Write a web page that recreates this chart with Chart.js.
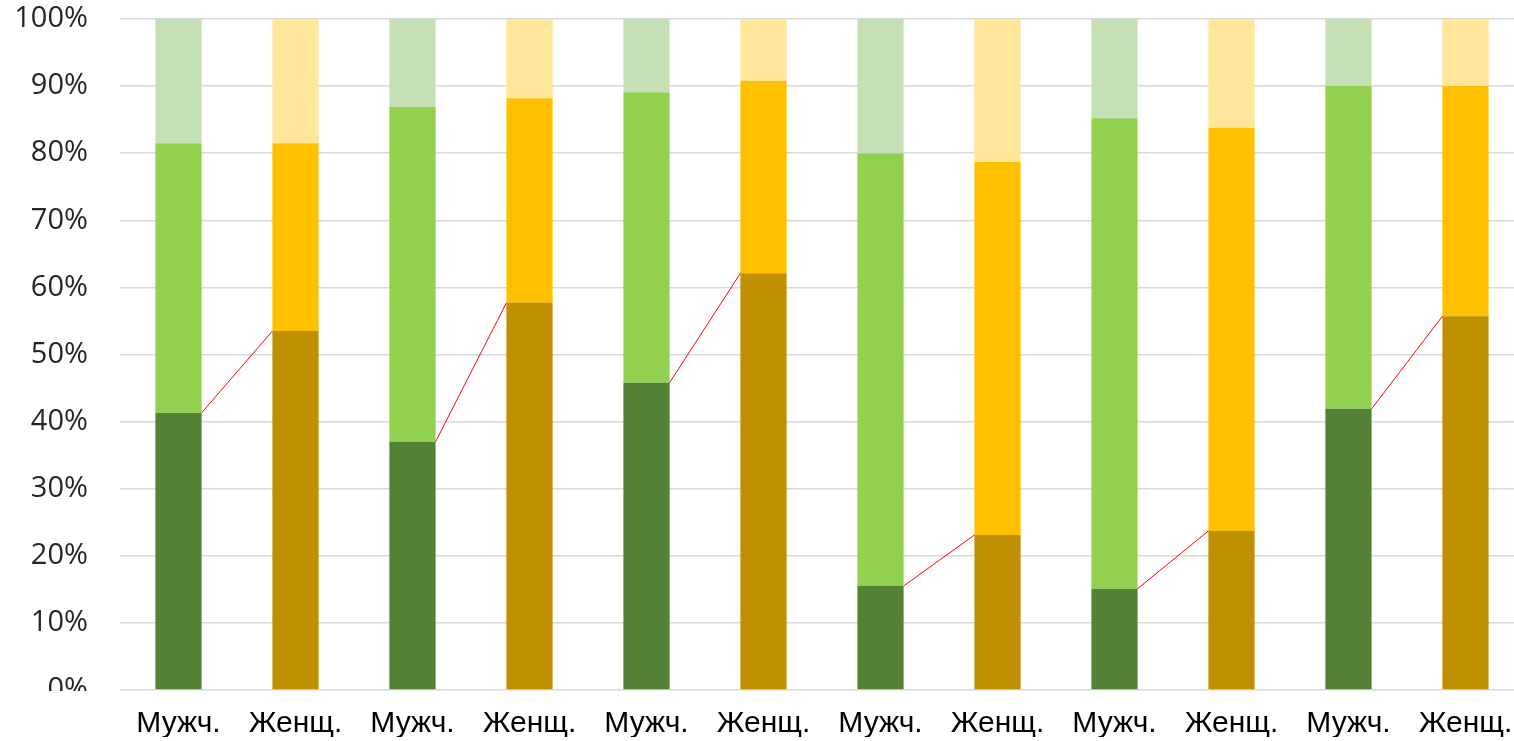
<!DOCTYPE html>
<html>
<head>
<meta charset="utf-8">
<script src="https://cdn.jsdelivr.net/npm/chart.js@4.4.1/dist/chart.umd.min.js"></script>
<style>
  html, body { margin: 0; padding: 0; background: #fff; overflow: hidden; }
  #wrap { width: 1524px; height: 741px; }
</style>
</head>
<body>
<div id="wrap"><canvas id="chart" width="1524" height="741"></canvas></div>
<script>
// ---------- data (segment shares, %) ----------
const labels = ["Мужч.", "Женщ.", "Мужч.", "Женщ.", "Мужч.", "Женщ.",
                "Мужч.", "Женщ.", "Мужч.", "Женщ.", "Мужч.", "Женщ."];
const lowShare  = [41.3, 53.5, 37.0, 57.7, 45.8, 62.1, 15.5, 23.1, 15.1, 23.7, 41.9, 55.7];
const midShare  = [40.2, 28.0, 49.9, 30.5, 43.3, 28.7, 64.5, 55.6, 70.1, 60.1, 48.1, 34.3];
const highShare = [18.5, 18.5, 13.1, 11.8, 10.9,  9.2, 20.0, 21.3, 14.8, 16.2, 10.0, 10.0];
const yTicks = [0, 10, 20, 30, 40, 50, 60, 70, 80, 90, 100];

// male / female palettes
const lowColors  = ["#548235", "#BF9000"];
const midColors  = ["#92D050", "#FFC000"];
const highColors = ["#C5E0B4", "#FFE699"];

function alternate(pair) {
  return labels.map((_, i) => pair[i % 2]);
}

// red "series lines" between the bottom segments of each pair
const seriesLines = {
  id: "seriesLines",
  afterDatasetsDraw(chart) {
    const meta = chart.getDatasetMeta(0);
    const ctx = chart.ctx;
    ctx.save();
    ctx.strokeStyle = "#FF0000";
    ctx.lineWidth = 1;
    for (let i = 0; i + 1 < meta.data.length; i += 2) {
      const a = meta.data[i], b = meta.data[i + 1];
      ctx.beginPath();
      ctx.moveTo(a.x + a.width / 2, a.y);
      ctx.lineTo(b.x - b.width / 2, b.y);
      ctx.stroke();
    }
    ctx.restore();
  }
};

// the "0%" label is cut at the axis line in the original
const clipZero = {
  id: "clipZero",
  afterDraw(chart) {
    const { ctx, chartArea } = chart;
    ctx.save();
    ctx.fillStyle = "#fff";
    ctx.fillRect(0, chartArea.bottom + 1, chartArea.left - 8, 14);
    ctx.restore();
  }
};

new Chart(document.getElementById("chart"), {
  type: "bar",
  data: {
    labels,
    datasets: [
      { data: lowShare,  backgroundColor: alternate(lowColors),  borderWidth: 0 },
      { data: midShare,  backgroundColor: alternate(midColors),  borderWidth: 0 },
      { data: highShare, backgroundColor: alternate(highColors), borderWidth: 0 }
    ]
  },
  options: {
    responsive: false,
    animation: false,
    layout: { padding: { top: 19, left: 12, right: 0, bottom: 4 } },
    datasets: { bar: { categoryPercentage: 1, barPercentage: 0.395 } },
    plugins: { legend: { display: false }, tooltip: { enabled: false } },
    scales: {
      x: {
        stacked: true,
        grid: { display: false, drawTicks: false },
        border: { display: false },
        afterFit(axis) { axis.height = 47; axis.paddingLeft = 0; axis.paddingRight = 0; },
        ticks: {
          color: "#000",
          padding: 16,
          maxRotation: 0,
          autoSkip: false,
          font: { family: "'Liberation Sans', Arial, sans-serif", size: 30 }
        }
      },
      y: {
        stacked: true,
        min: 0,
        max: 100,
        afterBuildTicks(axis) { axis.ticks = yTicks.map((v) => ({ value: v })); },
        afterFit(axis) { axis.width = 108; axis.paddingTop = 19; },
        grid: { color: "#D9D9D9", lineWidth: 1.5, drawTicks: false },
        border: { display: false },
        ticks: {
          color: "#262626",
          padding: 32,
          font: { family: "'Open Sans', sans-serif", size: 29 },
          callback: (v) => v + "%"
        }
      }
    }
  },
  plugins: [seriesLines, clipZero]
});
</script>
</body>
</html>
